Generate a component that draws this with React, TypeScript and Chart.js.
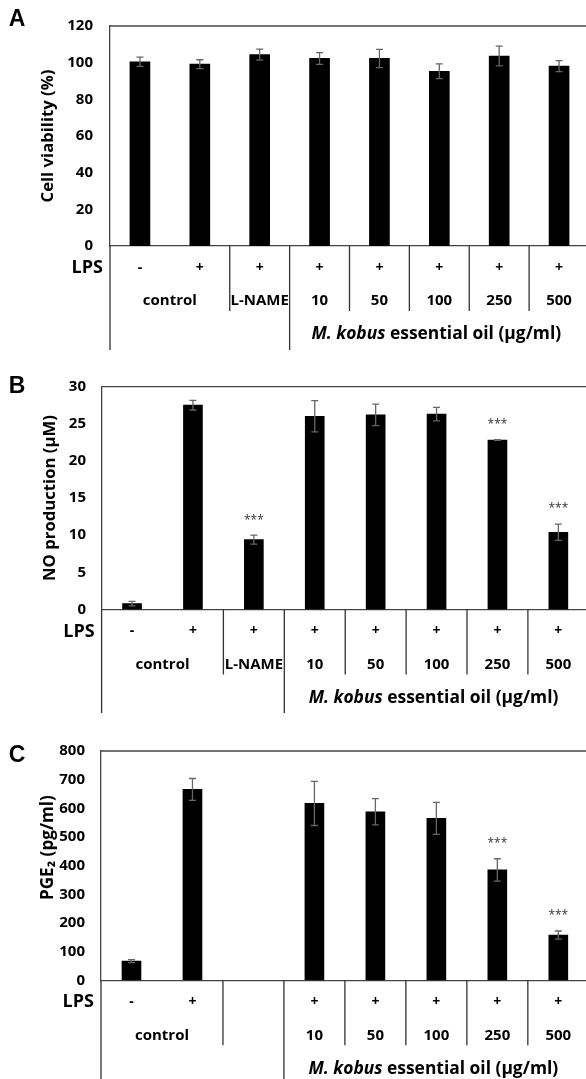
import React, { useEffect, useRef } from 'react';
import { Chart, registerables } from 'chart.js';

Chart.register(...registerables);

// ---- data ----
const categories = ['control (LPS -)', 'control (LPS +)', 'L-NAME', '10', '50', '100', '250', '500'];
const groupLabelsAB = ['control', 'control', 'L-NAME', '10', '50', '100', '250', '500'];
const groupLabelsC = ['control', 'control', '', '10', '50', '100', '250', '500'];
const lpsSignsAB = ['-', '+', '+', '+', '+', '+', '+', '+'];
const lpsSignsC = ['-', '+', '', '+', '+', '+', '+', '+'];

const viability = [100.5, 99.2, 104.4, 102.3, 102.3, 95.3, 103.6, 98.1];
const viabilityErr = [2.5, 2.4, 3.0, 3.2, 5.0, 4.0, 5.4, 3.0];
const viabilitySig = ['', '', '', '', '', '', '', ''];

const noProduction = [0.8, 27.5, 9.4, 26.0, 26.2, 26.3, 22.8, 10.4];
const noErr = [0.3, 0.65, 0.6, 2.1, 1.45, 0.9, 0.05, 1.1];
const noSig = ['', '', '***', '', '', '', '***', '***'];

const pge2 = [67, 666, null, 617, 588, 565, 385, 158];
const pge2Err = [5, 38, null, 77, 46, 56, 39, 14];
const pge2Sig = ['', '', '', '', '', '', '***', '***'];

const yMaxA = 120, yStepA = 20;
const yMaxB = 30, yStepB = 5;
const yMaxC = 800, yStepC = 100;

const titleA = 'Cell viability (%)';
const titleB = 'NO production (\u00b5M)';
const titleC = 'PGE\u2082 (pg/ml)';
const oilLabelItalic = 'M. kobus';
const oilLabelRest = ' essential oil (\u00b5g/ml)';

const FONT = '"Open Sans", "Noto Sans", sans-serif';
const CANVAS_W = 592;

type PanelProps = {
  top: number;
  height: number;
  letter: string;
  letterY: number;
  values: (number | null)[];
  errors: (number | null)[];
  sig: string[];
  signs: string[];
  groups: string[];
  yMax: number;
  yStep: number;
  yTitle: string;
  titleX: number;
  titleDY: number;
  titleLen: number;
  leftEdge: number;
  rightEdge: number;
  padTop: number;
  tableH: number;
  longEnd: number;
  barThickness: number;
  tickPad: number;
};

function fitSize(ctx: CanvasRenderingContext2D, text: string, style: string, target: number) {
  ctx.font = `${style} 20px ${FONT}`;
  const w = ctx.measureText(text).width;
  return (20 * target) / w;
}

function Panel(p: PanelProps) {
  const ref = useRef<HTMLCanvasElement | null>(null);
  useEffect(() => {
    const canvas = ref.current;
    if (!canvas) return;
    const decor = {
      id: 'decor',
      beforeDatasetsDraw(chart: any) {
        const { ctx, chartArea } = chart;
        ctx.save();
        ctx.strokeStyle = '#444';
        ctx.lineWidth = 1.3;
        ctx.beginPath();
        ctx.moveTo(chartArea.left, chartArea.top);
        ctx.lineTo(chart.width, chartArea.top);
        ctx.stroke();
        ctx.restore();
      },
      afterDraw(chart: any) {
        const { ctx, chartArea } = chart;
        const xs = chart.scales.x;
        const ys = chart.scales.y;
        const n = p.values.length;
        const cx = (i: number) => xs.getPixelForValue(i);
        const bnd = (i: number) => (cx(i) + cx(i + 1)) / 2; // boundary after i
        const base = chartArea.bottom;
        ctx.save();
        // error bars + stars
        for (let i = 0; i < n; i++) {
          const v = p.values[i];
          const e = p.errors[i];
          if (v == null || e == null) continue;
          const x = cx(i);
          const yT = ys.getPixelForValue(v + e);
          const yB = ys.getPixelForValue(Math.max(0, v - e));
          ctx.strokeStyle = '#666';
          ctx.lineWidth = 1.3;
          ctx.beginPath();
          ctx.moveTo(x, yT); ctx.lineTo(x, yB);
          ctx.moveTo(x - 3.5, yT); ctx.lineTo(x + 3.5, yT);
          ctx.moveTo(x - 3.5, yB); ctx.lineTo(x + 3.5, yB);
          ctx.stroke();
          if (p.sig[i]) {
            ctx.fillStyle = '#333';
            ctx.font = `12px ${FONT}`;
            ctx.textAlign = 'center';
            ctx.textBaseline = 'middle';
            ctx.fillText(p.sig[i], x, yT - 15);
          }
        }
        // table lines
        ctx.strokeStyle = '#333';
        ctx.lineWidth = 1.3;
        const longLines = [chartArea.left, bnd(2)];
        const shortLines = [bnd(1), bnd(3), bnd(4), bnd(5), bnd(6)];
        ctx.beginPath();
        longLines.forEach((x) => { ctx.moveTo(x, base); ctx.lineTo(x, p.longEnd); });
        shortLines.forEach((x) => { ctx.moveTo(x, base); ctx.lineTo(x, base + 65); });
        ctx.stroke();
        // LPS label
        ctx.fillStyle = '#000';
        ctx.textBaseline = 'middle';
        ctx.textAlign = 'right';
        ctx.font = `bold 18px ${FONT}`;
        ctx.fillText('LPS', chartArea.left - 7, base + 22);
        // group labels
        ctx.textAlign = 'center';
        ctx.font = `bold 15px ${FONT}`;
        if (p.groups[0]) ctx.fillText(p.groups[0], bnd(0), base + 55);
        for (let i = 2; i < n; i++) {
          if (p.groups[i]) ctx.fillText(p.groups[i], cx(i), base + 55);
        }
        // M. kobus label (fit to ~250px)
        const s1 = 17;
        const f1 = `italic bold ${s1}px ${FONT}`;
        const f2 = `bold ${s1}px ${FONT}`;
        ctx.font = f1; let w1 = ctx.measureText(oilLabelItalic).width;
        ctx.font = f2; let w2 = ctx.measureText(oilLabelRest).width;
        const k = Math.min(1.1, 250 / (w1 + w2));
        const s = s1 * k;
        const g1 = `italic bold ${s}px ${FONT}`;
        const g2 = `bold ${s}px ${FONT}`;
        ctx.font = g1; w1 = ctx.measureText(oilLabelItalic).width;
        ctx.font = g2; w2 = ctx.measureText(oilLabelRest).width;
        const mid = (bnd(2) + chartArea.right) / 2 - 3;
        const sx = mid - (w1 + w2) / 2;
        ctx.textAlign = 'left';
        ctx.font = g1; ctx.fillText(oilLabelItalic, sx, base + 88.5);
        ctx.font = g2; ctx.fillText(oilLabelRest, sx + w1, base + 88.5);
        // y title
        const ts = fitSize(ctx, p.yTitle, 'bold', p.titleLen);
        ctx.save();
        ctx.translate(p.titleX, (chartArea.top + chartArea.bottom) / 2 + p.titleDY);
        ctx.rotate(-Math.PI / 2);
        ctx.textAlign = 'center';
        ctx.font = `bold ${ts}px ${FONT}`;
        ctx.fillText(p.yTitle, 0, 0);
        ctx.restore();
        // panel letter
        ctx.textAlign = 'center';
        ctx.font = `bold 23px "Liberation Sans", Arial, sans-serif`;
        ctx.fillText(p.letter, 17, p.letterY);
        ctx.restore();
      },
    };
    const chart = new Chart(canvas, {
      type: 'bar',
      data: {
        labels: categories,
        datasets: [{
          data: p.values as any,
          backgroundColor: '#000',
          borderWidth: 0,
          barThickness: p.barThickness,
        }],
      },
      options: {
        responsive: false,
        animation: false,
        layout: { padding: { top: p.padTop, right: CANVAS_W - p.rightEdge, left: 0, bottom: 0 } },
        plugins: { legend: { display: false }, tooltip: { enabled: false } },
        scales: {
          x: {
            type: 'category',
            offset: true,
            grid: { display: false, drawTicks: false },
            border: { color: '#444', width: 1.3 },
            ticks: {
              color: '#000',
              font: { family: FONT, weight: 'bold', size: 14 },
              padding: 13.5,
              maxRotation: 0,
              autoSkip: false,
              callback: (_v: any, i: number) => p.signs[i],
            },
            afterFit: (s: any) => { s.height = p.tableH; },
          },
          y: {
            min: 0,
            max: p.yMax,
            grid: { display: false, drawTicks: false },
            border: { color: '#444', width: 1.3 },
            ticks: {
              stepSize: p.yStep,
              color: '#000',
              padding: p.tickPad,
              font: { family: FONT, weight: 'bold', size: 15 },
            },
            afterFit: (s: any) => { s.width = p.leftEdge; },
          },
        },
      },
      plugins: [decor],
    } as any);
    return () => chart.destroy();
  }, []);
  return (
    <div style={{ position: 'absolute', left: 0, top: p.top, width: 586, height: p.height, overflow: 'hidden' }}>
      <canvas ref={ref} width={CANVAS_W} height={p.height} style={{ width: CANVAS_W, height: p.height, display: 'block' }} />
    </div>
  );
}

export default function App() {
  useEffect(() => {
    document.body.style.margin = '0';
    document.body.style.background = '#fff';
  }, []);
  return (
    <div style={{ position: 'relative', width: 586, height: 1079, overflow: 'hidden', background: '#fff' }}>
      <Panel top={0} height={356} letter="A" letterY={20} values={viability} errors={viabilityErr} sig={viabilitySig}
        signs={lpsSignsAB} groups={groupLabelsAB} yMax={yMaxA} yStep={yStepA} yTitle={titleA}
        titleX={48.5} titleDY={0} titleLen={133} leftEdge={110} rightEdge={589} padTop={19.5} tableH={110} longEnd={350}
        barThickness={20} tickPad={17} />
      <Panel top={362} height={356} letter="B" letterY={25} values={noProduction} errors={noErr} sig={noSig}
        signs={lpsSignsAB} groups={groupLabelsAB} yMax={yMaxB} yStep={yStepB} yTitle={titleB}
        titleX={50.5} titleDY={0} titleLen={166} leftEdge={101.6} rightEdge={588.8} padTop={21} tableH={108.5} longEnd={351}
        barThickness={19} tickPad={15.6} />
      <Panel top={726} height={353} letter="C" letterY={30} values={pge2} errors={pge2Err} sig={pge2Sig}
        signs={lpsSignsC} groups={groupLabelsC} yMax={yMaxC} yStep={yStepC} yTitle={titleC}
        titleX={48} titleDY={-18} titleLen={105} leftEdge={101} rightEdge={588.8} padTop={22} tableH={98.7} longEnd={353}
        barThickness={19} tickPad={16} />
    </div>
  );
}
